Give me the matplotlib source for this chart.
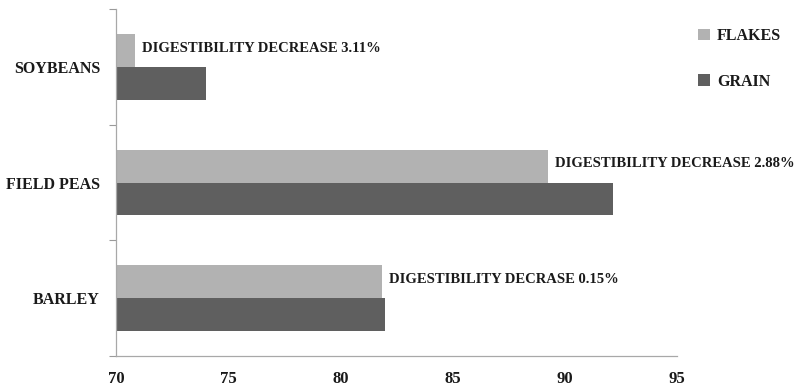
import matplotlib
matplotlib.use("Agg")
import matplotlib.pyplot as plt
import numpy as np

categories = ["BARLEY", "FIELD PEAS", "SOYBEANS"]
flakes = [81.85, 89.27, 70.85]
grain = [81.99, 92.16, 74.0]
bar_labels = ["DIGESTIBILITY DECRASE 0.15%",
              "DIGESTIBILITY DECREASE 2.88%",
              "DIGESTIBILITY DECREASE 3.11%"]
xticks = [70, 75, 80, 85, 90, 95]

plt.rcParams['font.family'] = ['Liberation Serif', 'DejaVu Serif']
plt.rcParams['font.weight'] = 'bold'

fig = plt.figure(figsize=(7.95, 3.89), dpi=100)
ax = fig.add_axes([116/795, 1-356/389, (677-116)/795, (356-9)/389])

FLAKE_C = "#b2b2b2"
GRAIN_C = "#5f5f5f"
y = np.arange(len(categories))
h = 0.283
ax.barh(y + h/2, flakes, height=h, color=FLAKE_C, label="FLAKES")
ax.barh(y - h/2, grain, height=h, color=GRAIN_C, label="GRAIN")

for yi, v, t in zip(y, flakes, bar_labels):
    ax.annotate(t, xy=(v, yi + h/2 + 0.02), xytext=(5, 0), textcoords="offset points",
                va="center", ha="left", fontsize=10.5, fontweight="bold", color="#1a1a1a")

ax.set_xlim(70, 95)
ax.set_ylim(-0.5, len(categories) - 0.5)
ax.set_xticks(xticks)
ax.set_xticklabels([str(t) for t in xticks])
ax.tick_params(axis="x", length=0, pad=11, labelsize=12, labelcolor="#1a1a1a")
ax.set_yticks(y)
ax.set_yticklabels(categories)
ax.tick_params(axis="y", which="major", length=0, pad=11.5, labelsize=11.5, labelcolor="#1a1a1a")
ax.set_yticks(np.arange(-0.5, len(categories)), minor=True)
ax.tick_params(axis="y", which="minor", length=5, color="#9a9a9a", width=0.8)

for s in ["top", "right"]:
    ax.spines[s].set_visible(False)
ax.spines["left"].set_color("#a8a8a8")
ax.spines["bottom"].set_color("#a8a8a8")
ax.spines["left"].set_linewidth(0.9)
ax.spines["bottom"].set_linewidth(0.9)

leg = fig.legend(loc="upper left", bbox_to_anchor=(698/795, 1-28/389), frameon=False,
                 fontsize=11.5, handlelength=0.75, handleheight=0.75, handletextpad=0.45,
                 labelspacing=1.85, borderaxespad=0, borderpad=0)
for t in leg.get_texts():
    t.set_color("#1a1a1a")

fig.savefig("out.png", dpi=100)
